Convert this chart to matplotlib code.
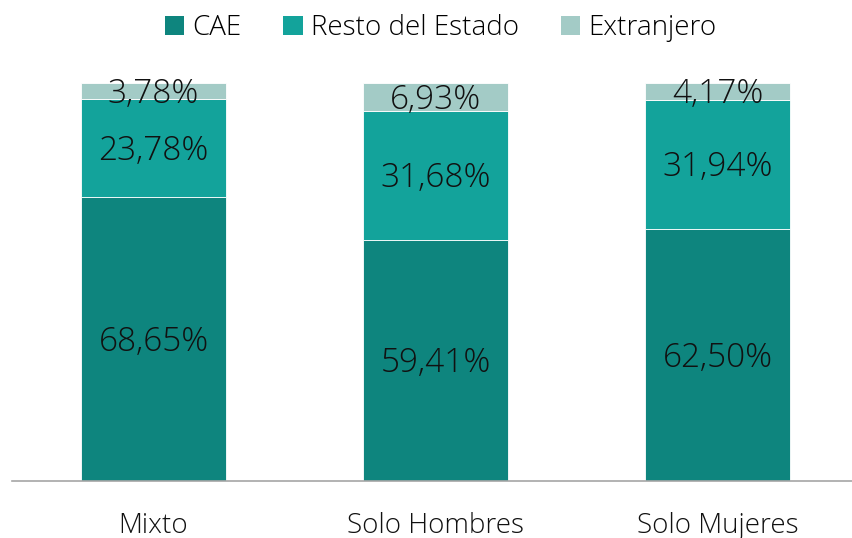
import numpy as np
import matplotlib.pyplot as plt
from matplotlib.patches import Patch

plt.rcParams['font.family'] = ['Open Sans', 'DejaVu Sans']

# DATA
categories = ["Mixto", "Solo Hombres", "Solo Mujeres"]
series_names = ["CAE", "Resto del Estado", "Extranjero"]
cae = [68.65, 59.41, 62.50]
resto = [23.78, 31.68, 31.94]
extranjero = [3.78, 6.93, 4.17]
colors = ["#0E857E", "#13A39B", "#A3CBC6"]

# FIGURE
fig = plt.figure(figsize=(8.52, 5.38), dpi=100)
ax = fig.add_axes([12 / 852, 57 / 538, 840 / 852, 398 / 538])

vals = np.array([cae, resto, extranjero])
totals = vals.sum(axis=0)
shares = vals / totals  # 100% stacked
x = np.arange(len(categories))
bottom = np.zeros(len(categories))
for i in range(len(series_names)):
    ax.bar(x, shares[i], 0.514, bottom=bottom, color=colors[i],
           edgecolor="white", linewidth=0.6)
    for j in range(len(categories)):
        lbl = "{:.2f}%".format(vals[i, j]).replace(".", ",")
        ax.text(x[j], bottom[j] + shares[i, j] / 2 - 0.008, lbl, ha="center", va="center",
                fontsize=24, color="#111111", fontweight="light")
    bottom += shares[i]

ax.set_xlim(-0.502, 2.477)
ax.set_ylim(0, 1)
ax.set_yticks([])
ax.set_xticks(x)
ax.set_xticklabels(categories, fontsize=20, color="#111111", fontweight="light")
ax.tick_params(axis="x", length=0, pad=22)
for s in ["top", "right", "left"]:
    ax.spines[s].set_visible(False)
ax.spines["bottom"].set_color("#A6A6A6")
ax.spines["bottom"].set_linewidth(1.2)

handles = [Patch(facecolor=c, edgecolor="none") for c in colors]
fig.legend(handles, series_names, loc="center", bbox_to_anchor=(0.517, 0.948),
           ncol=3, frameon=False, handlelength=0.7, handleheight=0.7,
           handletextpad=0.3, columnspacing=1.5, prop={'size': 20, 'weight': 'light'})

fig.savefig("out.png", dpi=100)
